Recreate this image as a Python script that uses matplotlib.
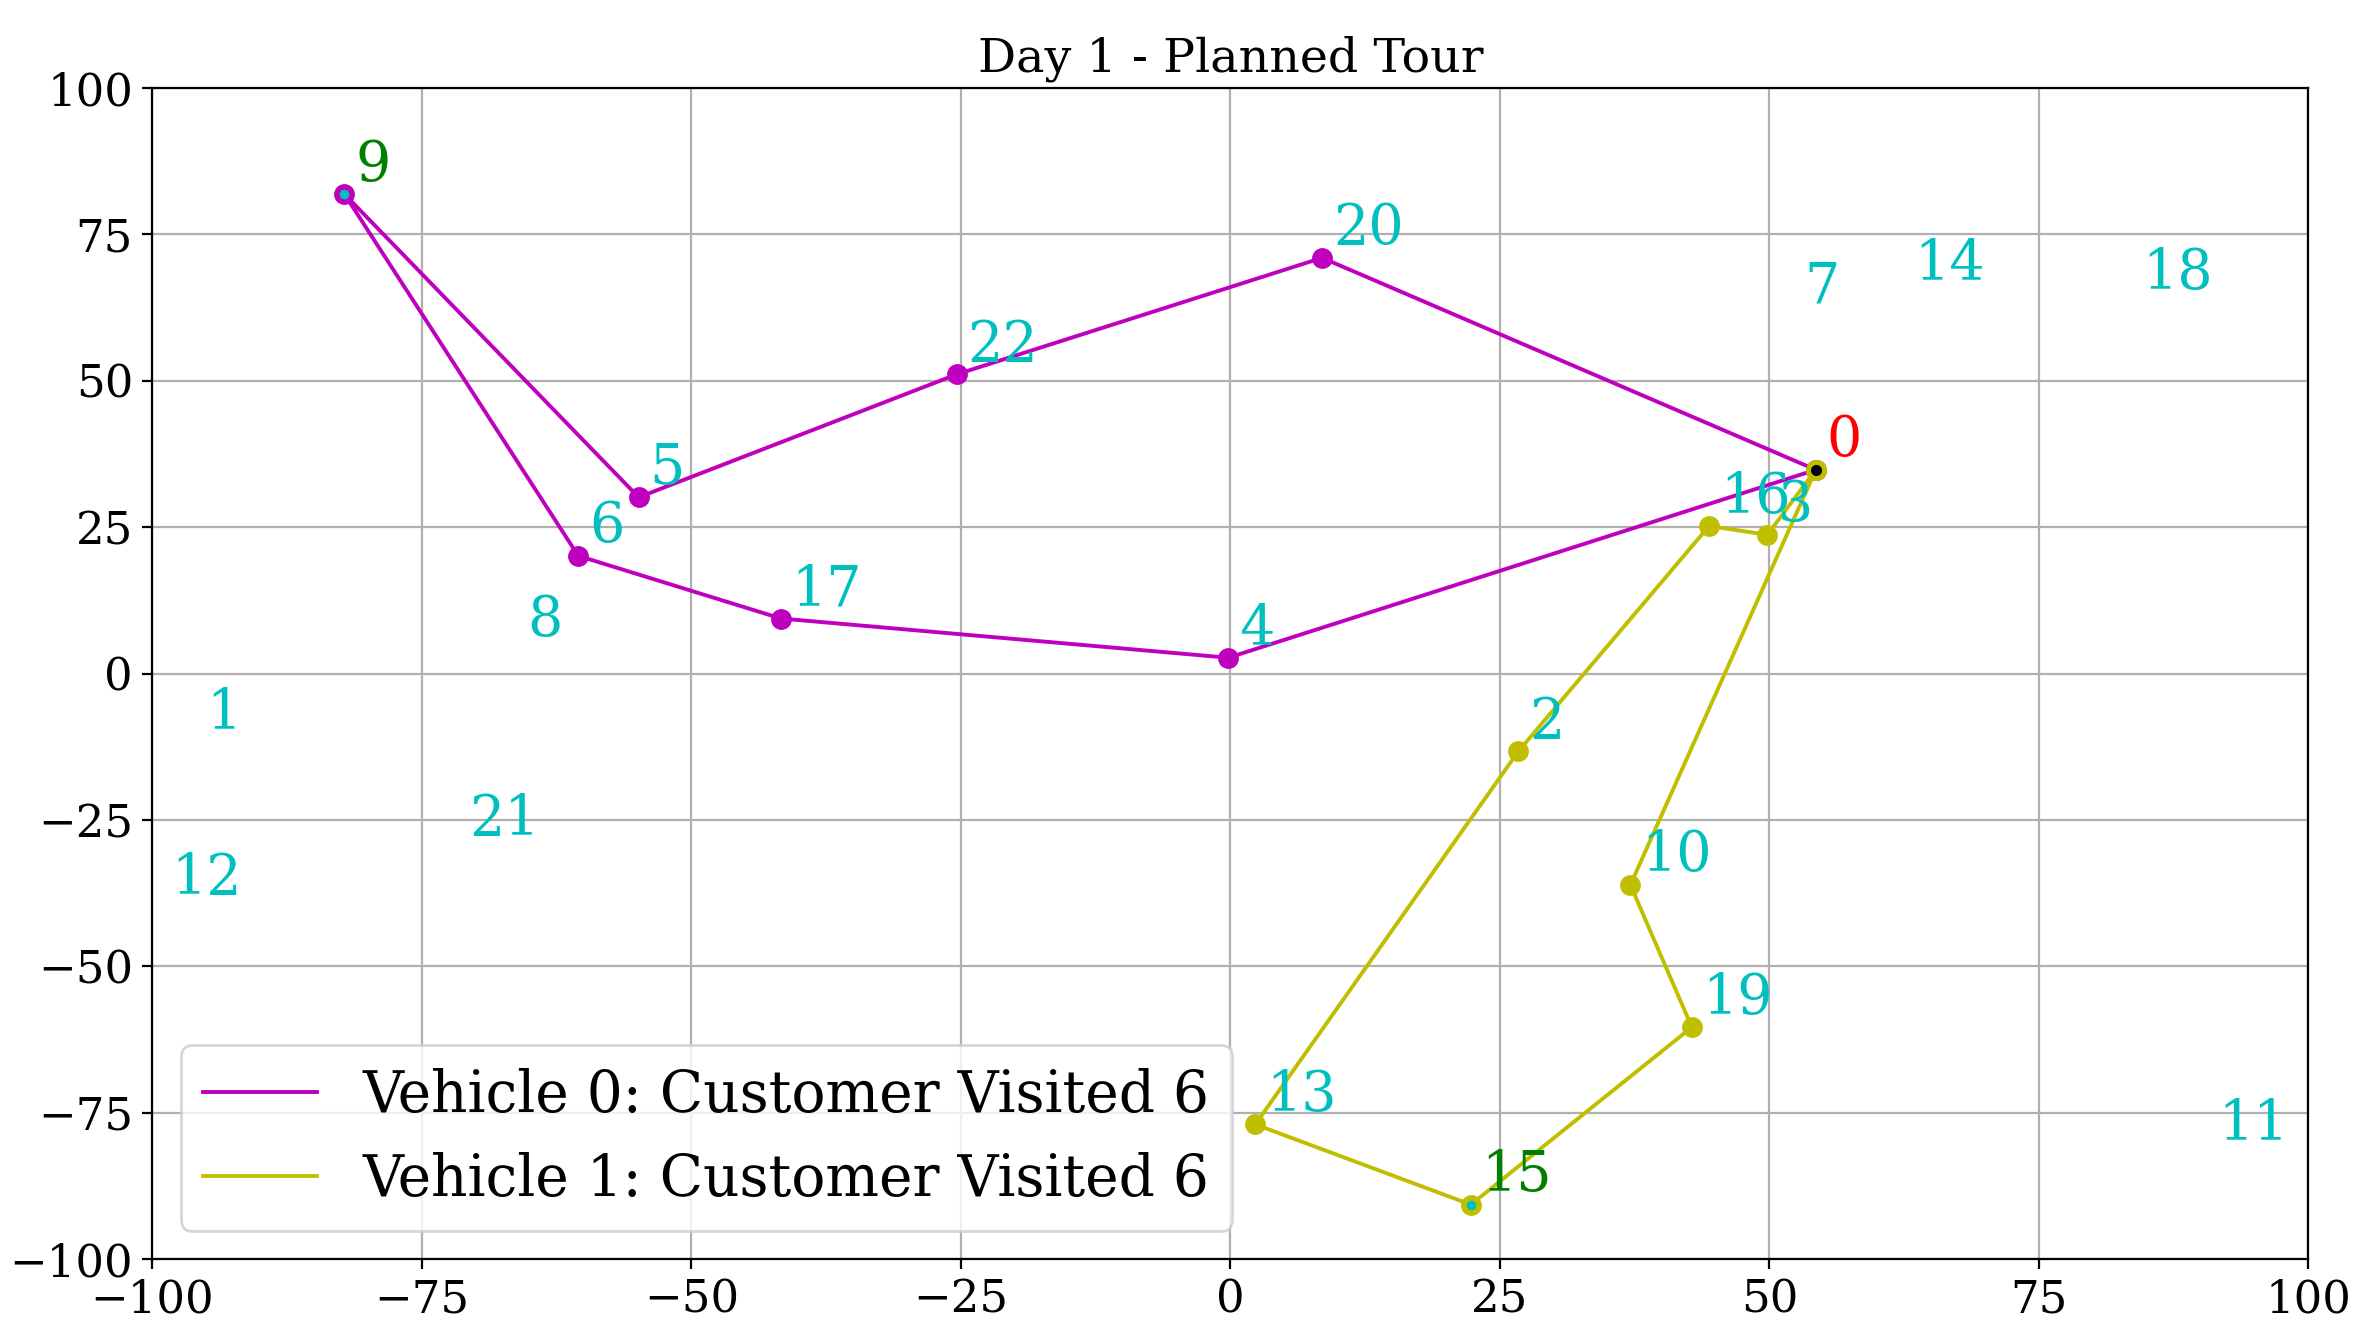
import matplotlib.pyplot as plt

# customer coordinates (index = customer id)
CUSTOMER_X = [54.3, -96.0, 26.7, 49.8, -0.2, -54.9, -60.5, 52.2, -66.2, -82.2,
              37.1, 90.6, -99.3, 2.3, 62.4, 22.3, 44.4, -41.7, 83.6, 42.8,
              8.5, -71.6, -25.4]
CUSTOMER_Y = [34.8, -11.7, -13.3, 23.7, 2.7, 30.1, 20.1, 61.0, 4.1, 81.9,
              -36.1, -81.8, -39.9, -77.0, 65.1, -90.7, 25.2, 9.4, 63.3, -60.4,
              71.0, -29.8, 51.1]

ROUTES = [
    [0, 20, 22, 5, 9, 6, 17, 4, 0],
    [0, 3, 16, 2, 13, 15, 19, 10, 0],
]
ROUTE_COLORS = ["m", "y"]
VISITED_COUNTS = [6, 6]
SPECIAL_CUSTOMERS = [9, 15]
DEPOT = 0
OUTPUT_PATH = "out.png"


def label_color(idx):
    if idx == DEPOT:
        return "r"
    if idx in SPECIAL_CUSTOMERS:
        return "g"
    return "c"


def main():
    plt.rcParams["font.family"] = "serif"
    fig = plt.figure(figsize=(11.82, 6.72), dpi=200)
    ax = fig.add_axes([0.0645, 0.0632, 0.912, 0.8713])

    for vehicle, (route, color) in enumerate(zip(ROUTES, ROUTE_COLORS)):
        xs = [CUSTOMER_X[i] for i in route]
        ys = [CUSTOMER_Y[i] for i in route]
        ax.plot(xs, ys, color=color, linewidth=1.4,
                label=f"Vehicle {vehicle}: Customer Visited {VISITED_COUNTS[vehicle]}")
        ax.plot(xs, ys, "o", color=color, markersize=6.5)

    ax.plot([CUSTOMER_X[i] for i in SPECIAL_CUSTOMERS],
            [CUSTOMER_Y[i] for i in SPECIAL_CUSTOMERS], "o", color="c", markersize=2.5)
    ax.plot(CUSTOMER_X[DEPOT], CUSTOMER_Y[DEPOT], "o", color="k", markersize=3)

    for i, (x, y) in enumerate(zip(CUSTOMER_X, CUSTOMER_Y)):
        ax.text(x + 1, y + 2.3, str(i), color=label_color(i), fontsize=20, zorder=6)

    ax.set_xlim(-100, 100)
    ax.set_ylim(-100, 100)
    ax.set_xticks(range(-100, 101, 25))
    ax.set_yticks(range(-100, 101, 25))
    ax.tick_params(labelsize=16.2)
    ax.grid(True)
    ax.set_title("Day 1 - Planned Tour", fontsize=17.1)
    ax.legend(loc="lower left", fontsize=20.4)

    fig.savefig(OUTPUT_PATH, dpi=200)


if __name__ == "__main__":
    main()
